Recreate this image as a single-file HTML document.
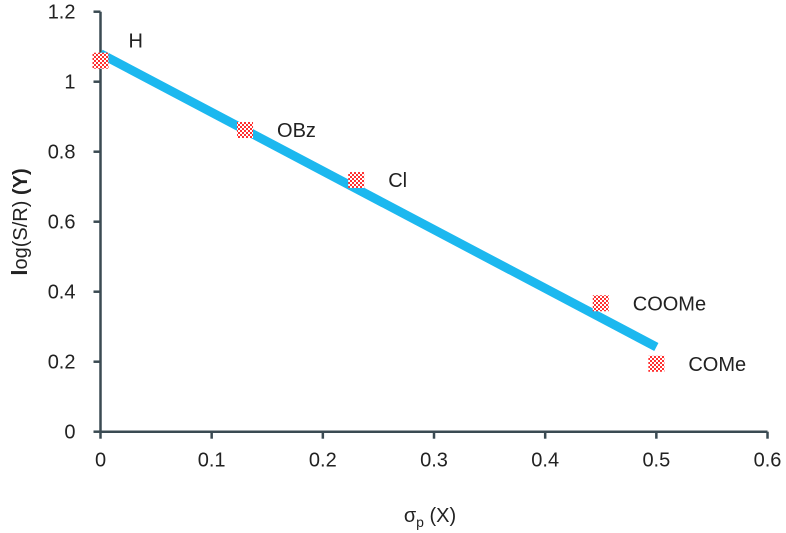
<!DOCTYPE html>
<html><head><meta charset="utf-8"><style>
html,body{margin:0;padding:0;background:#fff;}
svg{display:block;font-family:"Liberation Sans",sans-serif;}
</style></head><body>
<svg id="chart" width="786" height="533" viewBox="0 0 786 533">
<defs>
<pattern id="chk" width="4" height="4" patternUnits="userSpaceOnUse">
<rect width="4" height="4" fill="#ff3030"/><rect width="2" height="2" fill="#fff"/><rect x="2" y="2" width="2" height="2" fill="#fff"/>
</pattern>
</defs>
<g id="axes"></g>
<g id="marks"></g>
<text x="430" y="522" font-size="20" text-anchor="middle" fill="#222">σ<tspan font-size="14" dy="5">p</tspan><tspan dy="-5"> (X)</tspan></text>
<text transform="translate(27,222) rotate(-90)" font-size="20" text-anchor="middle" fill="#222"><tspan font-weight="bold" font-size="22">l</tspan>og(S/R) <tspan font-weight="bold">(Y)</tspan></text>
</svg>
<script>
const xTicks=[0,0.1,0.2,0.3,0.4,0.5,0.6];
const yTicks=[0,0.2,0.4,0.6,0.8,1,1.2];
const labels=["H","OBz","Cl","COOMe","COMe"];
const sigmaP=[0,0.13,0.23,0.45,0.5];
const logSR=[1.06,0.862,0.719,0.367,0.194];
const fitX=[0,0.5];
const fitY=[1.08,0.242];
const NS="http://www.w3.org/2000/svg";
const X=v=>100.5+v*1111.7;
const Y=v=>431.7-v*350;
function mk(t,a,p){const e=document.createElementNS(NS,t);for(const k in a)e.setAttribute(k,a[k]);p.appendChild(e);return e;}
const ax=document.getElementById('axes'),mg=document.getElementById('marks');
const c="#3a4a52";
let l=mk('line',{x1:X(0),y1:Y(0),x2:X(0.6),y2:Y(0),stroke:c,'stroke-width':2.5},ax);


l=mk('line',{x1:X(0),y1:Y(0),x2:X(0),y2:Y(1.2),stroke:c,'stroke-width':2.5},ax);


xTicks.forEach(v=>{
 const t=mk('line',{x1:X(v),y1:Y(0),x2:X(v),y2:Y(0)+7,stroke:c,'stroke-width':2.5},ax);
 
 
 const s=mk('text',{x:X(v),y:Y(0)+35,'font-size':20,'text-anchor':'middle',fill:'#222'},ax);s.textContent=String(v);
 
 
});
yTicks.forEach(v=>{
 const t=mk('line',{x1:X(0)-7,y1:Y(v),x2:X(0),y2:Y(v),stroke:c,'stroke-width':2.5},ax);
 
 
 const s=mk('text',{x:X(0)-25,y:Y(v)+7,'font-size':20,'text-anchor':'end',fill:'#222'},ax);s.textContent=String(v);
 
 
});
const fl=mk('line',{x1:X(fitX[0]),y1:Y(fitY[0]),x2:X(fitX[1]),y2:Y(fitY[1]),stroke:'#1cb8ef','stroke-width':9},mg);


sigmaP.forEach((v,i)=>{
 const r=mk('rect',{x:X(v)-8,y:Y(logSR[i])-8,width:16,height:16,fill:'url(#chk)'},mg);
 
 
 const s=mk('text',{x:X(v)+(i==0?28:32),y:Y(logSR[i])+(i==0?-13:7),'font-size':20,fill:'#222'},mg);s.textContent=labels[i];
 
 
});
</script>
</body></html>
